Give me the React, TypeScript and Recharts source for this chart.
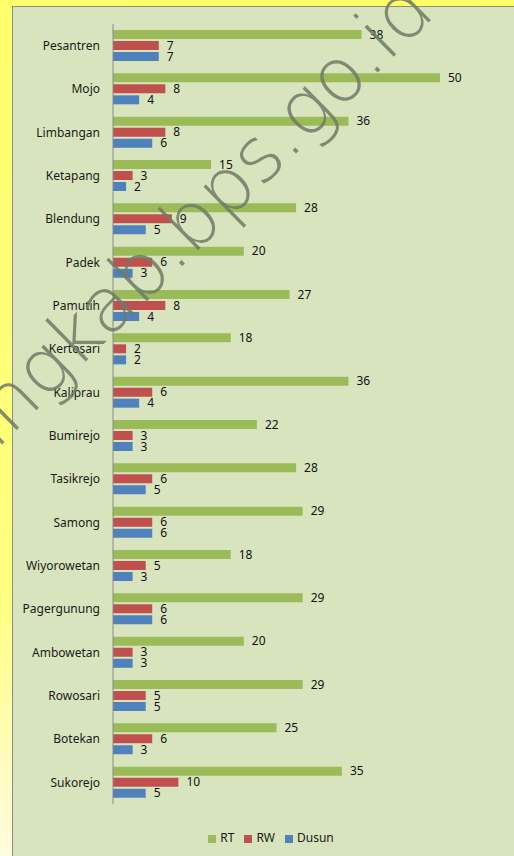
import { BarChart, Bar, XAxis, YAxis, Legend, LabelList } from "recharts";

const desa = [
  "Pesantren", "Mojo", "Limbangan", "Ketapang", "Blendung", "Padek", "Pamutih", "Kertosari", "Kaliprau",
  "Bumirejo", "Tasikrejo", "Samong", "Wiyorowetan", "Pagergunung", "Ambowetan", "Rowosari", "Botekan", "Sukorejo",
];
const rt = [38, 50, 36, 15, 28, 20, 27, 18, 36, 22, 28, 29, 18, 29, 20, 29, 25, 35];
const rw = [7, 8, 8, 3, 9, 6, 8, 2, 6, 3, 6, 6, 5, 6, 3, 5, 6, 10];
const dusun = [7, 4, 6, 2, 5, 3, 4, 2, 4, 3, 5, 6, 3, 6, 3, 5, 3, 5];
const seriesOrder = ["RT", "RW", "Dusun"];

const data = desa.map((name, i) => ({ name, RT: rt[i], RW: rw[i], Dusun: dusun[i] }));

const font = "'Noto Sans', sans-serif";
const label = { fontSize: 12, fill: "#111", fontFamily: font };

export default function App() {
  return (
    <div style={page}>
      <div style={panel} />
      <BarChart
        width={514}
        height={856}
        data={data}
        layout="vertical"
        barSize={9}
        barGap={2}
        margin={{ top: 24, right: 74, bottom: 35, left: 0 }}
        style={{ position: "absolute", left: 0, top: 0 }}
      >
        <XAxis type="number" domain={[0, 50]} hide />
        <YAxis
          type="category"
          dataKey="name"
          width={113}
          tickLine={false}
          tickMargin={7}
          axisLine={{ stroke: "#8a8a8a" }}
          tick={{ fontSize: 12, fill: "#1a1a1a", fontFamily: font }}
          interval={0}
        />
        <Legend
          verticalAlign="bottom"
          iconType="square"
          iconSize={8}
          itemSorter={(item: any) => seriesOrder.indexOf(item.value)}
          wrapperStyle={{ fontSize: 12, fontFamily: font, color: "#1a1a1a", paddingLeft: 56, bottom: 10 }}
          formatter={(v: string) => <span style={{ color: "#1a1a1a" }}>{v}</span>}
        />
        <Bar dataKey="RT" fill="#9bbb59" isAnimationActive={false}>
          <LabelList dataKey="RT" position="right" offset={8} style={label} />
        </Bar>
        <Bar dataKey="RW" fill="#c0504d" isAnimationActive={false}>
          <LabelList dataKey="RW" position="right" offset={8} style={label} />
        </Bar>
        <Bar dataKey="Dusun" fill="#4f81bd" isAnimationActive={false}>
          <LabelList dataKey="Dusun" position="right" offset={8} style={label} />
        </Bar>
      </BarChart>
      {/* watermark */}
      <svg width={514} height={856} style={{ position: "absolute", left: 0, top: 0, pointerEvents: "none" }}>
        <text
          x={437}
          y={14}
          textAnchor="end"
          transform="rotate(-44.7 437 14)"
          fontFamily="'DejaVu Sans', sans-serif"
          fontWeight={200}
          fontSize={76}
          fill="#6f7a66"
          fillOpacity={0.85}
        >
          rembangkab.bps.go.id
        </text>
      </svg>
    </div>
  );
}

const page: React.CSSProperties = {
  position: "absolute", left: 0, top: 0, width: 514, height: 856, overflow: "hidden",
  background: "linear-gradient(20deg, #fffbe0 0%, #ffff80 25%, #ffff66 100%)",
};
const panel: React.CSSProperties = {
  position: "absolute", left: 12, top: 6, width: 502, height: 850, background: "#d8e4bd",
  borderLeft: "1px solid #8c8c8c", borderTop: "1px solid #8c8c8c", boxSizing: "border-box",
};
